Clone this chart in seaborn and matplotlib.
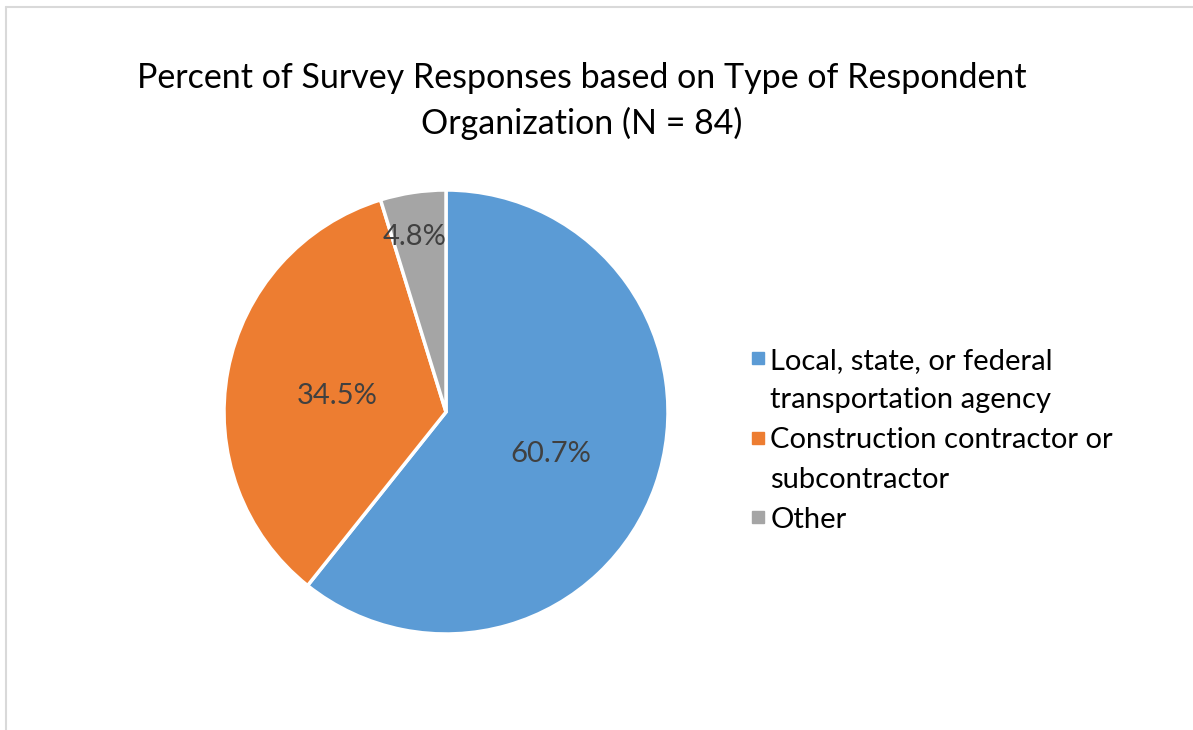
import matplotlib
matplotlib.use("Agg")
import matplotlib.pyplot as plt
from matplotlib.lines import Line2D
import seaborn as sns

# Survey responses by respondent organization type (N = 84)
categories = [
    ["Local, state, or federal", "transportation agency"],
    ["Construction contractor or", "subcontractor"],
    ["Other"],
]
counts = [51, 29, 4]
colors = ["#5B9BD5", "#ED7D31", "#A5A5A5"]
title = "Percent of Survey Responses based on Type of Respondent\nOrganization (N = 84)"

sns.set_theme(style="white")
plt.rcParams["font.family"] = ["Lato", "DejaVu Sans"]
plt.rcParams["text.color"] = "black"

W, H = 1193, 730
fig = plt.figure(figsize=(W / 100, H / 100), dpi=100)
fig.patch.set_facecolor("white")

# chart-area frame (left and top edges)
frame_kw = dict(color="#D9D9D9", linewidth=1.5, transform=fig.transFigure)
fig.add_artist(Line2D([6 / W, 6 / W], [0, 1 - 7 / H], **frame_kw))
fig.add_artist(Line2D([6 / W, 1], [1 - 7 / H, 1 - 7 / H], **frame_kw))

cx, cy, r = 446, 412, 222
ax = fig.add_axes([(cx - r) / W, (H - cy - r) / H, 2 * r / W, 2 * r / H])

wedges, texts, autotexts = ax.pie(
    counts,
    colors=colors,
    startangle=90,
    counterclock=False,
    autopct="%1.1f%%",
    pctdistance=0.5,
    wedgeprops=dict(edgecolor="white", linewidth=2.5),
    textprops=dict(color="#404040", fontsize=21),
)
ax.set_xlim(-1, 1)
ax.set_ylim(-1, 1)
ax.set_aspect("equal")
ax.axis("off")

for t in autotexts[:2]:
    x, y = t.get_position()
    t.set_position((x, y - 0.022))
# small slice label sits near the rim
autotexts[2].set_position(((415 - cx) / r, (cy - 237) / r))

fig.text(582 / W, 1 - 101 / H, title, ha="center", va="center",
         fontsize=24.5, color="black", linespacing=1.5)

# legend: one row per text line, swatch only on an entry's first line
handles, labels = [], []
for lines, c in zip(categories, colors):
    for i, line in enumerate(lines):
        if i == 0:
            handles.append(Line2D([], [], marker="s", linestyle="none",
                                  markersize=8.5, markerfacecolor=c,
                                  markeredgecolor=c))
        else:
            handles.append(Line2D([], [], linestyle="none"))
        labels.append(line)

leg = fig.legend(handles, labels, loc="upper left",
                 bbox_to_anchor=(739 / W, 1 - 336 / H), frameon=False,
                 fontsize=21, handlelength=0.5, handletextpad=0.18,
                 labelspacing=0.47, borderaxespad=0, labelcolor="black")

fig.savefig("out.png", dpi=100, facecolor="white")
